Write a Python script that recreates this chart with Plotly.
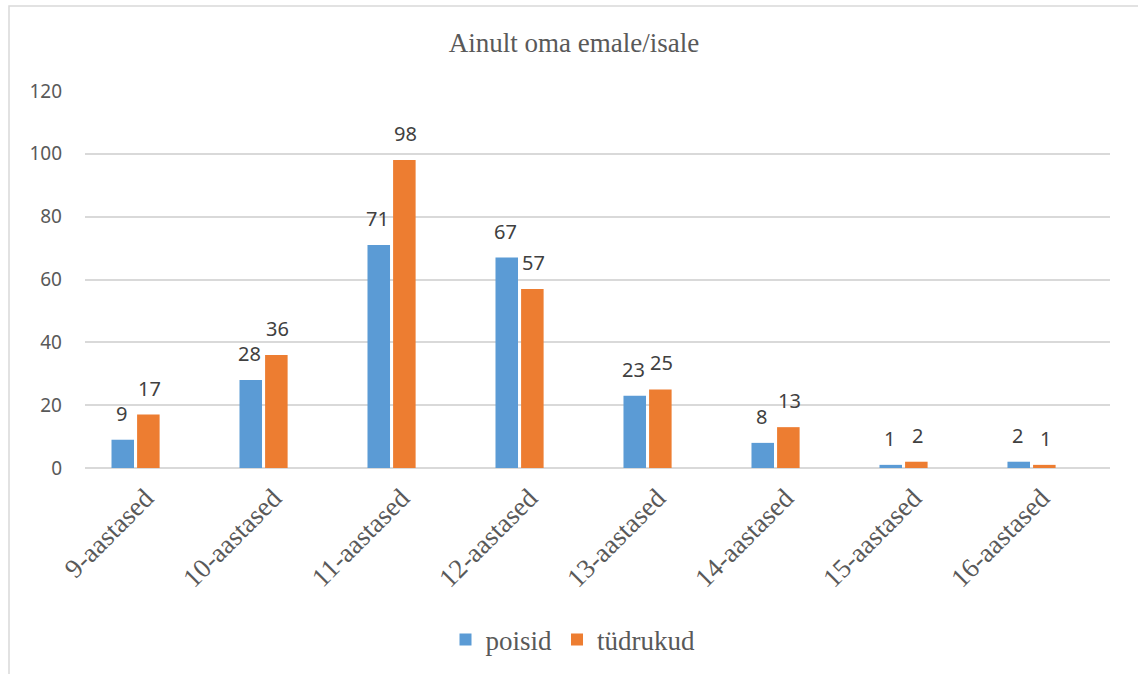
import plotly.graph_objects as go

categories = ["9-aastased", "10-aastased", "11-aastased", "12-aastased",
              "13-aastased", "14-aastased", "15-aastased", "16-aastased"]
poisid = [9, 28, 71, 67, 23, 8, 1, 2]
tudrukud = [17, 36, 98, 57, 25, 13, 2, 1]
title_text = "Ainult oma emale/isale"

W, H = 1138, 674
L, R, T, B = 85, 28, 91, 206
pw = W - L - R
ph = H - T - B

SERIF = "Liberation Serif, Times New Roman, serif"
SANS = "Noto Sans, Liberation Sans, sans-serif"

fig = go.Figure()
fig.add_trace(go.Bar(x=categories, y=poisid, name="poisid", marker_color="#5B9BD5",
                     marker_line_width=0))
fig.add_trace(go.Bar(x=categories, y=tudrukud, name="tüdrukud", marker_color="#ED7D31",
                     marker_line_width=0))

# data labels above bars (offset to each bar of the group)
annotations = []
for vals, dx in ((poisid, -14.3), (tudrukud, 14.3)):
    for c, v in zip(categories, vals):
        annotations.append(dict(x=c, y=v, xref="x", yref="y", text=str(v), showarrow=False,
                                xshift=dx, yshift=11, yanchor="bottom",
                                font=dict(family=SANS, size=20, color="#404040")))


def px_x(p):
    return (p - L) / pw


def px_y(p):
    return (H - B - p) / ph


fig.update_layout(
    width=W, height=H,
    margin=dict(l=L, r=R, t=T, b=B, autoexpand=False),
    paper_bgcolor="white", plot_bgcolor="white",
    barmode="group", bargap=0.6, bargroupgap=0.12,
    title=dict(text=title_text, x=574 / W, xanchor="center", y=1 - 43 / H, yanchor="middle",
               font=dict(family=SERIF, size=27, color="#595959")),
    xaxis=dict(range=[-0.395, 7.613], tickangle=-45, showgrid=False, showline=False,
               ticks="", ticklabelstandoff=8, ticklabelshift=10,
               tickfont=dict(family=SERIF, size=27, color="#595959")),
    yaxis=dict(range=[0, 120], dtick=20, showgrid=True, gridcolor="#D9D9D9", gridwidth=1.5,
               zeroline=True, zerolinecolor="#D9D9D9", zerolinewidth=1.5,
               showline=False, ticks="", ticklabelstandoff=22,
               tickfont=dict(family=SANS, size=19, color="#595959")),
    legend=dict(orientation="h", x=px_x(573), xanchor="center",
                y=px_y(640), yanchor="middle",
                font=dict(family=SERIF, size=27, color="#595959"),
                itemwidth=30),
    annotations=annotations,
    shapes=[dict(type="rect", xref="paper", yref="paper",
                 x0=px_x(9), x1=px_x(1150), y0=px_y(700), y1=px_y(6),
                 line=dict(color="#D9D9D9", width=1.5), fillcolor="rgba(0,0,0,0)", layer="below")],
    showlegend=True,
)

fig.write_html("out.html", config={"displayModeBar": False},
               post_script="document.body.style.margin='0';")
